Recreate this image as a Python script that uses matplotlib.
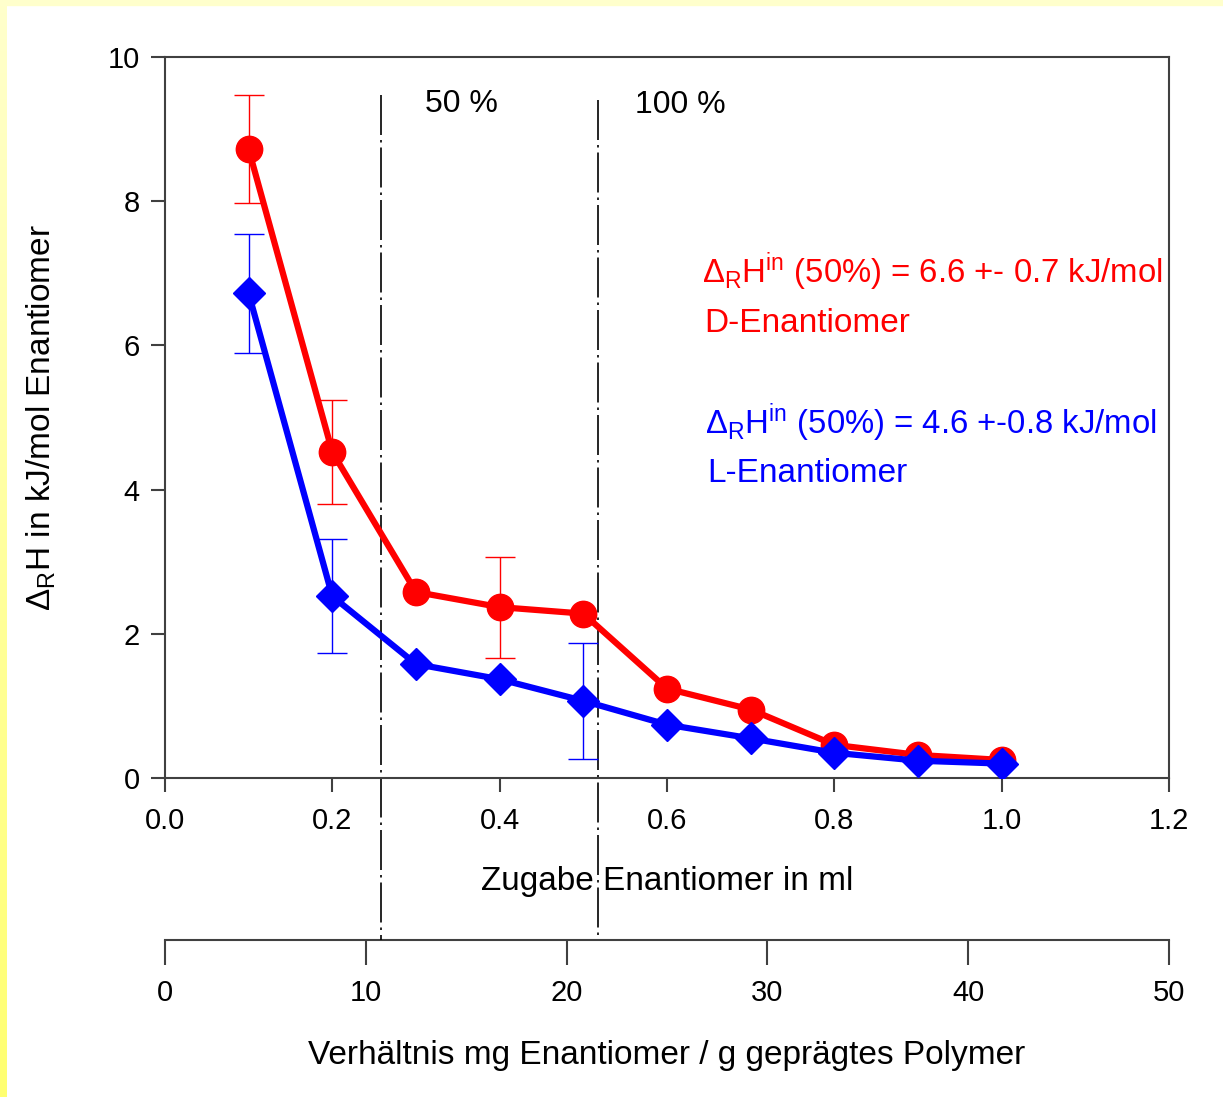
import numpy as np
import matplotlib
matplotlib.use('Agg')
import matplotlib.pyplot as plt
from matplotlib.patches import Rectangle

plt.rcParams['font.family'] = ['Liberation Sans', 'DejaVu Sans']
plt.rcParams['mathtext.fontset'] = 'custom'
plt.rcParams['mathtext.rm'] = 'Liberation Sans'
plt.rcParams['mathtext.it'] = 'Liberation Sans:italic'

# Daten
zugabe_ml = [0.1, 0.2, 0.3, 0.4, 0.5, 0.6, 0.7, 0.8, 0.9, 1.0]
d_enantiomer = [8.72, 4.52, 2.58, 2.37, 2.28, 1.24, 0.95, 0.46, 0.32, 0.25]
l_enantiomer = [6.72, 2.52, 1.58, 1.37, 1.07, 0.74, 0.55, 0.35, 0.24, 0.20]

# Fehlerbalken (nur an einigen Punkten)
d_err_x = [0.1, 0.2, 0.4]
d_err_y = [8.72, 4.52, 2.37]
d_err = [0.75, 0.72, 0.70]
l_err_x = [0.1, 0.2, 0.5]
l_err_y = [6.72, 2.52, 1.07]
l_err = [0.83, 0.79, 0.80]

grenzen_ml = [0.258, 0.5175]
grenzen_text = ['50 %', '100 %']

W, H = 1223, 1097
fig = plt.figure(figsize=(W / 100, H / 100), dpi=100)

# gelber Rand
grad = fig.add_axes([0, 0, 7 / W, 1])
grad.imshow(np.linspace(0, 1, 256).reshape(-1, 1), aspect='auto',
            cmap=matplotlib.colors.LinearSegmentedColormap.from_list('y', ['#ffffcc', '#ffff70']),
            extent=[0, 1, 1, 0])
grad.axis('off')
fig.patches.append(Rectangle((0, 1 - 5 / H), 1, 5 / H, transform=fig.transFigure,
                             color='#ffffcc', zorder=0))

ax = fig.add_axes([165 / W, 1 - 778 / H, (1169 - 165) / W, (778 - 57) / H])
spine_col = '#404040'
for s in ax.spines.values():
    s.set_color(spine_col)
    s.set_linewidth(1.5)

ax.errorbar(d_err_x, d_err_y, yerr=d_err, fmt='none', ecolor='red', elinewidth=1,
            capsize=11, capthick=1, zorder=2)
ax.errorbar(l_err_x, l_err_y, yerr=l_err, fmt='none', ecolor='blue', elinewidth=1,
            capsize=11, capthick=1, zorder=2)
ax.plot(zugabe_ml, d_enantiomer, color='red', lw=4.5, marker='o', ms=19, zorder=3)
ax.plot(zugabe_ml, l_enantiomer, color='blue', lw=4.5, marker='D', ms=16, zorder=4)

ax.set_xlim(0, 1.2)
ax.set_ylim(0, 10)
ax.set_xticks(np.arange(0, 1.21, 0.2))
ax.set_xticklabels([f'{v:.1f}' for v in np.arange(0, 1.21, 0.2)])
ax.set_yticks([0, 2, 4, 6, 8, 10])
ax.tick_params(direction='out', length=10, width=1.5, color=spine_col, labelsize=21)
ax.tick_params(axis='x', pad=11)
ax.tick_params(axis='y', pad=8)

ax.set_xlabel('Zugabe Enantiomer in ml', fontsize=24, labelpad=22)
ax.set_ylabel(r'$\Delta_{\mathrm{R}}$H in kJ/mol Enantiomer', fontsize=24, labelpad=36)

# zweite x-Achse
sec = ax.secondary_xaxis(-0.2247, functions=(lambda x: x * 50 / 1.2, lambda x: x * 1.2 / 50))
sec.set_xticks([0, 10, 20, 30, 40, 50])
sec.spines['bottom'].set_color(spine_col)
sec.spines['bottom'].set_linewidth(1.5)
sec.tick_params(direction='out', length=18, width=1.5, color=spine_col, labelsize=21, pad=10)
sec.set_xlabel('Verhältnis mg Enantiomer / g geprägtes Polymer', fontsize=24, labelpad=24)

# Strich-Punkt-Linien
tops = [0.947, 0.94]
for gx, top in zip(grenzen_ml, tops):
    ax.plot([gx, gx], [top, -0.2247], transform=ax.get_xaxis_transform(), color='black',
            lw=1.2, ls=(0, (24, 3, 1.5, 3)), clip_on=False, zorder=1)
ax.text(0.311, 9.35, grenzen_text[0], fontsize=23, ha='left', va='center')
ax.text(0.562, 9.33, grenzen_text[1], fontsize=23, ha='left', va='center')

ax.text(0.642, 7.02, r'$\Delta_{\mathrm{R}}\mathrm{H}^{\mathrm{in}}$ (50%) = 6.6 +- 0.7 kJ/mol',
        color='red', fontsize=23.7, ha='left', va='center')
ax.text(0.644, 6.31, 'D-Enantiomer', color='red', fontsize=24, ha='left', va='center')
ax.text(0.646, 4.93, r'$\Delta_{\mathrm{R}}\mathrm{H}^{\mathrm{in}}$ (50%) = 4.6 +-0.8 kJ/mol',
        color='blue', fontsize=23.7, ha='left', va='center')
ax.text(0.648, 4.22, 'L-Enantiomer', color='blue', fontsize=24, ha='left', va='center')

fig.savefig('out.png', dpi=100)
